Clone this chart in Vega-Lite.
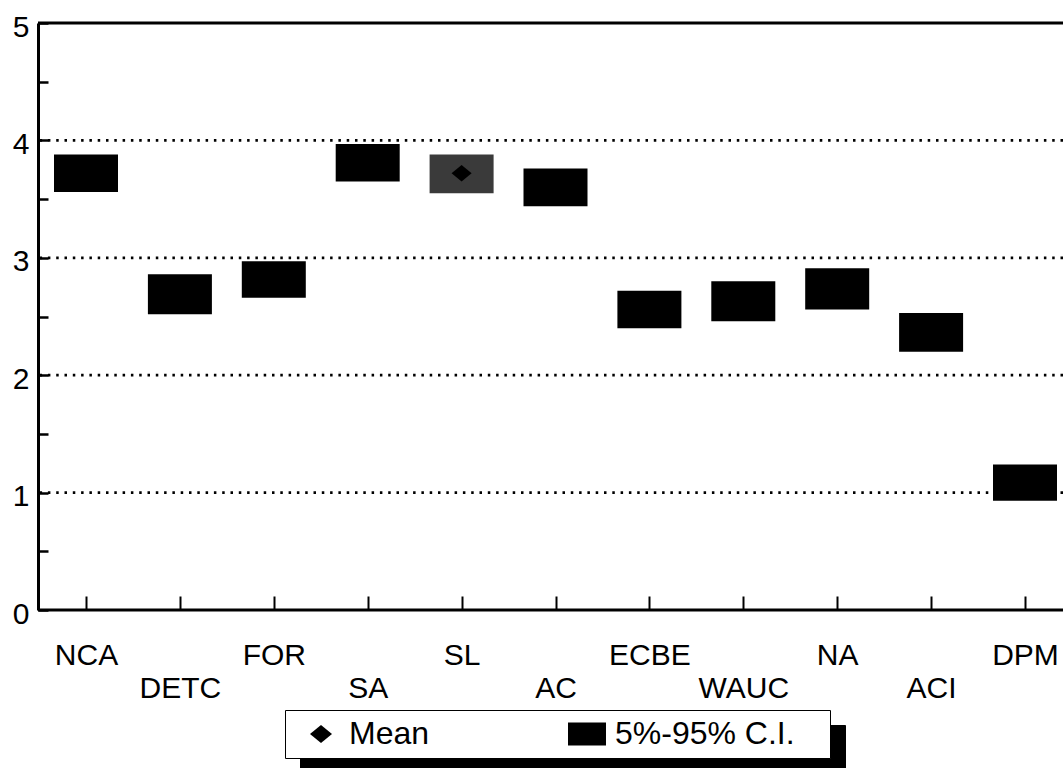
{
  "$schema": "https://vega.github.io/schema/vega-lite/v6.json",
  "width": 1025,
  "height": 587,
  "autosize": "none",
  "padding": {"left": 38, "top": 23, "right": 0, "bottom": 158},
  "background": "white",
  "config": {"view": {"stroke": null}, "font": "Liberation Sans"},
  "datasets": {
    "ci": [
      {"cat": "NCA", "lo": 3.56, "hi": 3.88, "mean": 3.72},
      {"cat": "DETC", "lo": 2.52, "hi": 2.86, "mean": 2.69},
      {"cat": "FOR", "lo": 2.66, "hi": 2.97, "mean": 2.81},
      {"cat": "SA", "lo": 3.65, "hi": 3.97, "mean": 3.81},
      {"cat": "SL", "lo": 3.55, "hi": 3.88, "mean": 3.72},
      {"cat": "AC", "lo": 3.44, "hi": 3.76, "mean": 3.60},
      {"cat": "ECBE", "lo": 2.40, "hi": 2.72, "mean": 2.56},
      {"cat": "WAUC", "lo": 2.46, "hi": 2.80, "mean": 2.63},
      {"cat": "NA", "lo": 2.56, "hi": 2.91, "mean": 2.74},
      {"cat": "ACI", "lo": 2.20, "hi": 2.53, "mean": 2.37},
      {"cat": "DPM", "lo": 0.93, "hi": 1.24, "mean": 1.09}
    ],
    "grid": [{"v": 1}, {"v": 2}, {"v": 3}, {"v": 4}],
    "frame": [{"v": 5}, {"v": 0}]
  },
  "layer": [
    {
      "data": {"name": "grid"},
      "mark": {"type": "rule", "strokeDash": [2.5, 5.8], "strokeWidth": 2.8, "color": "black"},
      "encoding": {
        "y": {
          "field": "v", "type": "quantitative",
          "scale": {"domain": [0, 5], "nice": false},
          "axis": {
            "title": null,
            "values": [0, 0.25, 0.5, 0.75, 1, 1.25, 1.5, 1.75, 2, 2.25, 2.5, 2.75, 3, 3.25, 3.5, 3.75, 4, 4.25, 4.5, 4.75, 5],
            "labelExpr": "datum.value % 1 === 0 ? format(datum.value, 'd') : ''",
            "labelFontSize": 30,
            "labelFont": "Liberation Sans",
            "labelColor": "black",
            "labelFlush": false,
            "labelOverlap": false,
            "labelOffset": 4,
            "tickSize": -10,
            "tickWidth": 2.5,
            "tickColor": "black",
            "labelPadding": 19,
            "domainColor": "black",
            "domainWidth": 3,
            "grid": false
          }
        }
      }
    },
    {
      "data": {"name": "frame"},
      "mark": {"type": "rule", "strokeWidth": 3, "color": "black"},
      "encoding": {"y": {"field": "v", "type": "quantitative"}}
    },
    {
      "data": {"name": "ci"},
      "mark": {"type": "bar", "width": 64, "strokeWidth": 0},
      "encoding": {
        "x": {
          "field": "cat", "type": "nominal", "sort": null,
          "scale": {"type": "point", "range": [48, 987], "padding": 0},
          "axis": {
            "title": null,
            "labelAngle": 0,
            "labelFontSize": 30,
            "labelFont": "Liberation Sans",
            "labelColor": "black",
            "labelBaseline": "top",
            "labelPadding": 44,
            "labelLineHeight": 33,
            "labelOverlap": false,
            "labelFlush": false,
            "labelExpr": "(datum.value === 'DETC' || datum.value === 'SA' || datum.value === 'AC' || datum.value === 'WAUC' || datum.value === 'ACI') ? ['', datum.label] : datum.label",
            "tickSize": -14,
            "tickWidth": 2,
            "tickColor": "black",
            "domain": false,
            "grid": false
          }
        },
        "y": {"field": "lo", "type": "quantitative"},
        "y2": {"field": "hi"},
        "color": {"condition": {"test": "datum.cat === 'SL'", "value": "#3a3a3a"}, "value": "black"}
      }
    },
    {
      "data": {"name": "ci"},
      "mark": {"type": "point", "filled": true, "size": 650, "strokeWidth": 0, "opacity": 1, "color": "black"},
      "encoding": {
        "x": {"field": "cat", "type": "nominal", "sort": null},
        "y": {"field": "mean", "type": "quantitative"},
        "shape": {
          "datum": "Mean", "type": "nominal",
          "scale": {
            "domain": ["Mean", "5%-95% C.I."],
            "range": ["M0,-0.643L0.786,0L0,0.643L-0.786,0Z", "M-1.357,-0.82L1.357,-0.82L1.357,0.82L-1.357,0.82Z"]
          },
          "legend": {
            "orient": "none", "legendX": 247, "legendY": 687,
            "direction": "horizontal", "title": null,
            "labelFontSize": 32, "labelFont": "Liberation Sans", "labelColor": "black", "labelLimit": 400,
            "symbolSize": 784, "symbolOffset": 12, "labelOffset": 12,
            "symbolFillColor": "black", "symbolStrokeColor": "black", "symbolStrokeWidth": 0,
            "columnPadding": 129, "padding": 8,
            "strokeColor": "black", "fillColor": "white", "zindex": 2,
            "labelExpr": "datum.value === 'Mean' ? 'Mean' : '5%-95% C.I.   \u200b'",
            "encode": {"legend": {"strokeWidth": {"value": 2}}}
          }
        },
        "color": {
          "datum": "s1", "type": "nominal",
          "scale": {"domain": ["s1", "s2"], "range": ["black", "black"]},
          "legend": {
            "orient": "none", "legendX": 262, "legendY": 702,
            "direction": "horizontal", "title": null,
            "labelFontSize": 32, "labelFont": "Liberation Sans", "labelColor": "black", "labelLimit": 400,
            "symbolSize": 784, "symbolOffset": 12, "labelOffset": 12,
            "symbolType": "square",
            "columnPadding": 129, "padding": 8,
            "strokeColor": "black", "fillColor": "black", "zindex": 1,
            "labelExpr": "datum.value === 's1' ? 'Mean' : '5%-95% C.I.   \u200b'"
          }
        }
      }
    }
  ]
}
